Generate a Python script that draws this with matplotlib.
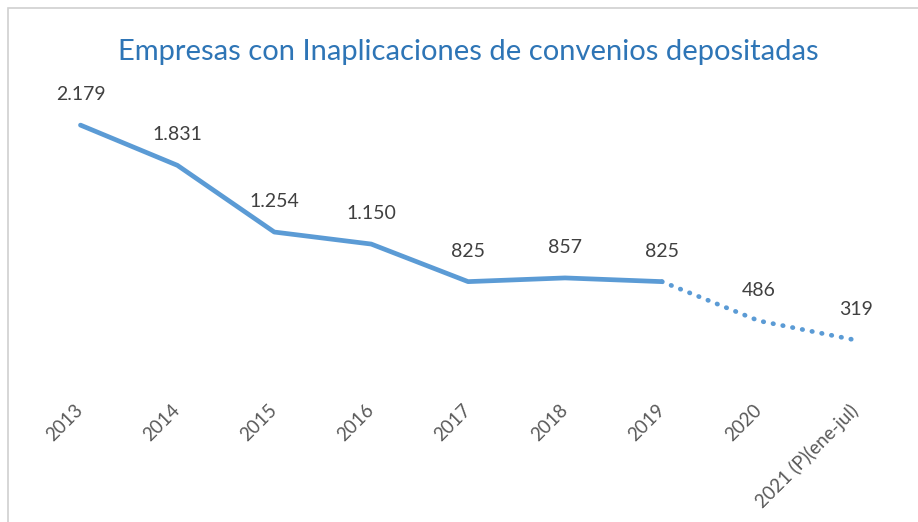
import matplotlib
matplotlib.use('Agg')
import matplotlib.pyplot as plt
from matplotlib.patches import Rectangle

# data
years = ['2013', '2014', '2015', '2016', '2017', '2018', '2019', '2020', '2021 (P)(ene-jul)']
values = [2179, 1831, 1254, 1150, 825, 857, 825, 486, 319]
labels = ['2.179', '1.831', '1.254', '1.150', '825', '857', '825', '486', '319']
n_solid = 7  # 2013-2019 solid, then dotted to the projection

line_color = '#5B9BD5'
text_color = '#404040'
tick_color = '#595959'
title_color = '#2E75B6'

plt.rcParams['font.family'] = ['Lato', 'DejaVu Sans']

fig = plt.figure(figsize=(9.18, 5.22), dpi=100)
ax = fig.add_axes([0.0349, 0.2778, 0.950, 0.5536])

x = list(range(len(years)))
ax.plot(x[:n_solid], values[:n_solid], color=line_color, lw=3.4, solid_capstyle='round')
ax.plot(x[n_solid - 1:], values[n_solid - 1:], color=line_color, lw=3.4,
        linestyle=(0, (0.1, 2.0)), dash_capstyle='round')

for xi, v, lab in zip(x, values, labels):
    ax.annotate(lab, (xi, v), xytext=(0, 22), textcoords='offset points',
                ha='center', va='center', fontsize=14, color=text_color)

ax.set_xlim(-0.5, len(years) - 0.5)
ax.set_ylim(0, 2500)
ax.set_yticks([])
ax.set_xticks(x)
ax.set_xticklabels(years, rotation=45, ha='right', va='center',
                   rotation_mode='anchor', fontsize=13.5, color=tick_color)
ax.tick_params(axis='x', length=0, pad=22)
for s in ax.spines.values():
    s.set_visible(False)

fig.text(0.51, 0.9, 'Empresas con Inaplicaciones de convenios depositadas',
         ha='center', va='center', fontsize=21, color=title_color)

# chart area frame (only top and left edges show)
fig.patches.append(Rectangle((8 / 918, -0.1), 1.2, 1 - 8 / 522 + 0.1,
                             transform=fig.transFigure, fill=False,
                             edgecolor='#D0D0D0', lw=1.2))

fig.savefig('out.png', dpi=100)
